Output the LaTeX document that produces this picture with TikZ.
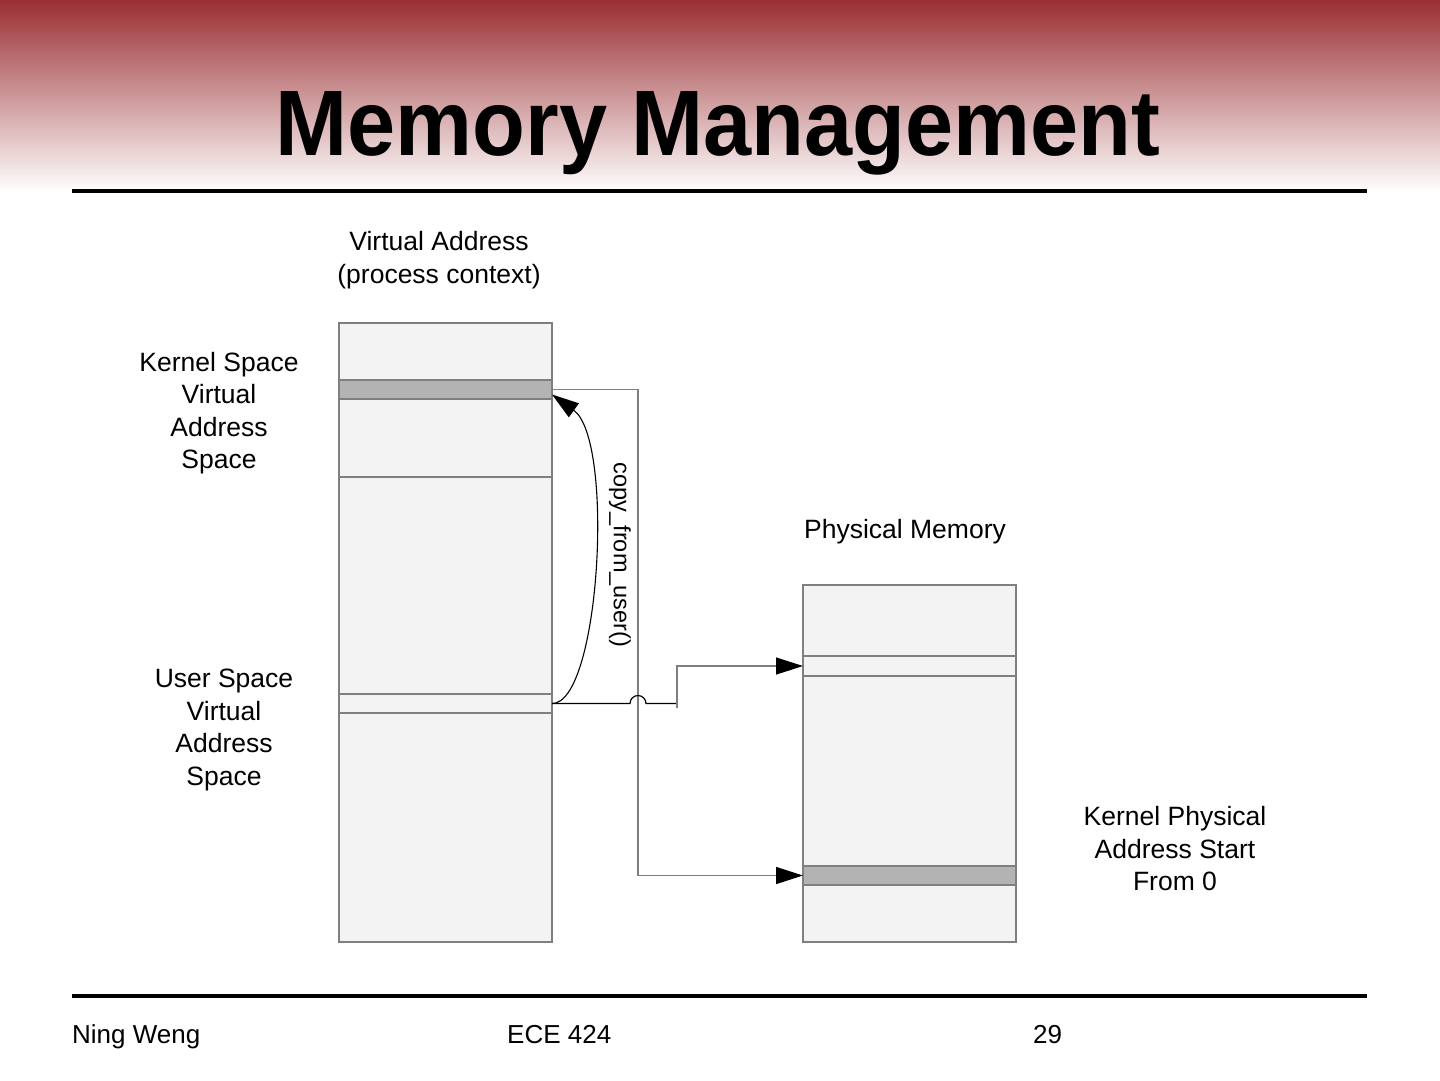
\documentclass[tikz,border=0pt]{standalone}
\usepackage{fontspec}
\setmainfont{Liberation Sans}
\usepackage{graphicx}
\usetikzlibrary{arrows.meta,positioning}
\definecolor{hdr}{HTML}{9A2F33}
\definecolor{memfill}{HTML}{F3F3F3}
\definecolor{memband}{HTML}{B3B3B3}
\definecolor{memline}{HTML}{7F7F7F}

\begin{document}
\begin{tikzpicture}[x=1pt,y=-1pt,
  mem/.style={draw=memline,fill=memfill,line width=1.2pt,inner sep=0pt,outer sep=0pt,anchor=north west,minimum width=213pt},
  band/.style={mem,fill=memband},
  lbl/.style={align=center,font=\fontsize{26.5}{32.5}\selectfont},
  foot/.style={anchor=base west,inner sep=0pt,font=\fontsize{26}{30}\selectfont},
  conn/.style={line width=1.3pt,draw=memline},
  tip/.style={-{Triangle[length=27pt,width=17pt,color=black]}}]
\useasboundingbox (0,0) rectangle (1440,1080);
\shade[top color=hdr,bottom color=white] (0,0) rectangle (1440,192);
\node[anchor=base] (title) at (718,155) {\scalebox{0.93}[1]{\fontsize{93}{100}\selectfont\bfseries Memory Management}};
\draw[line width=4pt] (72,191) -- (1367,191);
\draw[line width=4pt] (72,996) -- (1367,996);
\node[foot] (author) at (72,1043) {Ning Weng};
\node[foot] (course) at (507,1043) {ECE 424};
\node[foot] (page) at (1033,1043) {29};

\node[mem,minimum height=619pt] (vm) at (339,323) {};
\draw[memline,line width=1.2pt] (339,477) -- (552,477);
\node[band,minimum height=19pt] (kb) at (339,380) {};
\node[mem,minimum height=19pt] (ub) at (339,694) {};
\node[mem,minimum height=357pt] (pm) at (803,585) {};
\node[mem,minimum height=20pt] (pu) at (803,656) {};
\node[band,minimum height=19pt] (pk) at (803,866) {};

\node[lbl] (vmlbl) at (439,260) {Virtual Address\\(process context)};
\node[lbl] (kslbl) at (219,413) {Kernel Space\\Virtual\\Address\\Space};
\node[lbl] (uslbl) at (224,730) {User Space\\Virtual\\Address\\Space};
\node[lbl] (pmlbl) at (905,532) {Physical Memory};
\node[lbl] (kplbl) at (1175,849) {Kernel Physical\\Address Start\\From 0};
\node[rotate=-90,font=\fontsize{23.5}{28}\selectfont] (cfu) at (620,555) {copy\_from\_user()};

\coordinate (bus) at (638,600);
\coordinate (hop) at (638,703.5);
\coordinate (rise) at (677,703.5);
\draw[line width=1.1pt,tip] (ub.east) .. controls (600,704) and (615,440) .. ([yshift=-5pt]kb.east);
\draw[conn,tip] (kb.east) -| (bus) |- (pk.west);
\draw[line width=1.2pt] (ub.east) -- ([xshift=-8pt]hop) arc[start angle=180,end angle=360,radius=8] -- (rise);
\draw[conn,tip] ([yshift=-4pt]rise) |- (pu.west);
\end{tikzpicture}
\end{document}
